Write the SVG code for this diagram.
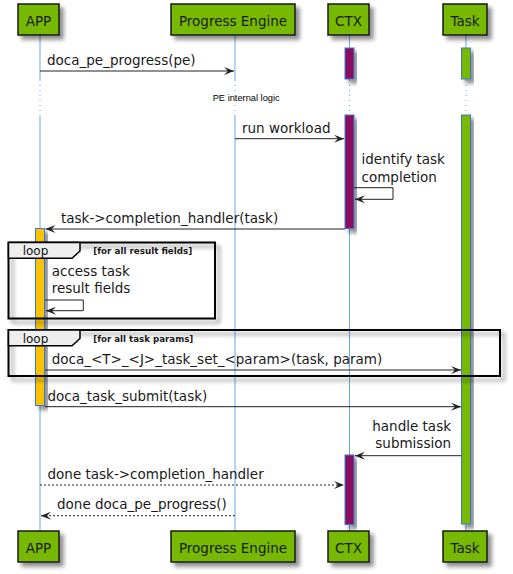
<svg xmlns="http://www.w3.org/2000/svg" width="513" height="574" viewBox="0 0 513 574">
<style>
.part{fill:#76B900;stroke:#181818;stroke-width:1.5}
.ptxt{font-family:"DejaVu Sans",sans-serif;font-size:13.5px;fill:#1a1a1a;text-anchor:middle}
.life{stroke:#6AA8E8;stroke-width:1;fill:none}
.lifed{stroke:#6AA8E8;stroke-width:1;fill:none;stroke-dasharray:1,4}
.actC{fill:#8A1060;stroke:#3C78D0;stroke-width:1}
.actT{fill:#76B900;stroke:#3C78D0;stroke-width:1}
.actA{fill:#FAC200;stroke:#3C78D0;stroke-width:1}
.msg{stroke:#222;stroke-width:1;fill:none;marker-end:url(#ah)}
.msgd{stroke:#222;stroke-width:1;fill:none;stroke-dasharray:2,2;marker-end:url(#ah)}
.mtxt{font-family:"DejaVu Sans",sans-serif;font-size:13.5px;fill:#1a1a1a}
.frame{fill:none;stroke:#000;stroke-width:2}
.tab{fill:#EEEEEE;stroke:#000;stroke-width:1.5}
.ltxt{font-family:"DejaVu Sans",sans-serif;font-size:12.5px;fill:#111}
.ctxt{font-family:"DejaVu Sans",sans-serif;font-size:8.7px;font-weight:bold;fill:#1a1a1a}
.note{font-family:"Liberation Sans",sans-serif;font-size:9.3px;fill:#000}
</style>
<defs>
<filter id="sh" x="-30%" y="-30%" width="160%" height="160%">
<feGaussianBlur in="SourceAlpha" stdDeviation="2"/>
<feOffset dx="4" dy="4" result="b"/>
<feComponentTransfer><feFuncA type="linear" slope="0.45"/></feComponentTransfer>
<feMerge><feMergeNode/><feMergeNode in="SourceGraphic"/></feMerge>
</filter>
<marker id="ah" markerWidth="10" markerHeight="8" refX="10" refY="4" orient="auto" markerUnits="userSpaceOnUse">
<path d="M0,0 L10,4 L0,8 L4,4 Z" fill="#222"/>
</marker>
</defs>

<g id="lifelines">
<path class="life" d="M40,35V80M40,115V531"/><path class="lifed" d="M40,80V115"/>
<path class="life" d="M235,35V80M235,115V531"/><path class="lifed" d="M235,80V115"/>
<path class="life" d="M349.5,35V80M349.5,115V531"/><path class="lifed" d="M349.5,80V115"/>
<path class="life" d="M466,35V80M466,115V531"/><path class="lifed" d="M466,80V115"/>
</g>

<g id="APP">
<rect class="part" x="18" y="4" width="41" height="31" filter="url(#sh)"/>
<text class="ptxt" x="38.5" y="25.5">APP</text>
<rect class="part" x="18" y="531" width="41" height="31" filter="url(#sh)"/>
<text class="ptxt" x="38.5" y="552.5">APP</text>
</g>
<g id="ProgressEngine">
<rect class="part" x="171" y="4" width="124" height="31" filter="url(#sh)"/>
<text class="ptxt" x="233" y="25.5">Progress Engine</text>
<rect class="part" x="171" y="531" width="124" height="31" filter="url(#sh)"/>
<text class="ptxt" x="233" y="552.5">Progress Engine</text>
</g>
<g id="CTX">
<rect class="part" x="328" y="4" width="41" height="31" filter="url(#sh)"/>
<text class="ptxt" x="348.5" y="25.5">CTX</text>
<rect class="part" x="328" y="531" width="41" height="31" filter="url(#sh)"/>
<text class="ptxt" x="348.5" y="552.5">CTX</text>
</g>
<g id="Task">
<rect class="part" x="443" y="4" width="44" height="31" filter="url(#sh)"/>
<text class="ptxt" x="465" y="25.5">Task</text>
<rect class="part" x="443" y="531" width="44" height="31" filter="url(#sh)"/>
<text class="ptxt" x="465" y="552.5">Task</text>
</g>

<g id="activations">
<rect class="actC" x="345" y="48" width="9" height="31" filter="url(#sh)"/>
<rect class="actT" x="461.5" y="48" width="9" height="31" filter="url(#sh)"/>
<rect class="actC" x="345" y="115" width="9" height="113.5" filter="url(#sh)"/>
<rect class="actT" x="461.5" y="115" width="9" height="409" filter="url(#sh)"/>
<rect class="actA" x="35.5" y="228.5" width="9" height="177" filter="url(#sh)"/>
<rect class="actC" x="345" y="455" width="9" height="69.5" filter="url(#sh)"/>
</g>

<text class="note" x="212.7" y="100.5" textLength="67" lengthAdjust="spacingAndGlyphs">PE internal logic</text>

<g id="connectors">
<line class="msg" x1="40" y1="71" x2="234" y2="71"/>
<text class="mtxt" x="47" y="65">doca_pe_progress(pe)</text>

<line class="msg" x1="235" y1="138.7" x2="344" y2="138.7"/>
<text class="mtxt" x="242" y="133.3">run workload</text>

<path class="msg" d="M354,187.7H393V199.3H355"/>
<text class="mtxt" x="361.5" y="164">identify task</text>
<text class="mtxt" x="361.5" y="181.7">completion</text>

<line class="msg" x1="345" y1="229" x2="45.5" y2="229"/>
<text class="mtxt" x="61" y="223.3">task-&gt;completion_handler(task)</text>

<path class="msg" d="M45,300H83.3V310.7H46"/>
<text class="mtxt" x="51.7" y="275.7">access task</text>
<text class="mtxt" x="51.7" y="293.3">result fields</text>

<line class="msg" x1="45" y1="370" x2="461" y2="370"/>
<text class="mtxt" x="51.7" y="364">doca_&lt;T&gt;_&lt;J&gt;_task_set_&lt;param&gt;(task, param)</text>

<line class="msg" x1="45" y1="406.7" x2="461" y2="406.7"/>
<text class="mtxt" x="47.5" y="400.7">doca_task_submit(task)</text>

<line class="msg" x1="461.5" y1="455.7" x2="355" y2="455.7"/>
<text class="mtxt" x="451" y="430.7" text-anchor="end">handle task</text>
<text class="mtxt" x="451" y="448.3" text-anchor="end">submission</text>

<line class="msgd" x1="40" y1="485" x2="344" y2="485"/>
<text class="mtxt" x="47.5" y="479.3">done task-&gt;completion_handler</text>

<line class="msgd" x1="235" y1="515.7" x2="41" y2="515.7"/>
<text class="mtxt" x="57" y="509.3">done doca_pe_progress()</text>
</g>

<g id="loop1">
<rect class="frame" x="8.5" y="242.5" width="206.5" height="76" filter="url(#sh)"/>
<path class="tab" d="M8.5,242.5H80V251L72,258.3H8.5Z"/>
<text class="ltxt" x="22.7" y="255" textLength="25.6" lengthAdjust="spacingAndGlyphs">loop</text>
<text class="ctxt" x="93.3" y="254" textLength="99" lengthAdjust="spacingAndGlyphs">[for all result fields]</text>
</g>
<g id="loop2">
<rect class="frame" x="8.5" y="330" width="491.5" height="46" filter="url(#sh)"/>
<path class="tab" d="M8.5,330H80V338.5L72,345.8H8.5Z"/>
<text class="ltxt" x="22.7" y="342.8" textLength="25.6" lengthAdjust="spacingAndGlyphs">loop</text>
<text class="ctxt" x="93.3" y="341.8" textLength="100" lengthAdjust="spacingAndGlyphs">[for all task params]</text>
</g>
</svg>
